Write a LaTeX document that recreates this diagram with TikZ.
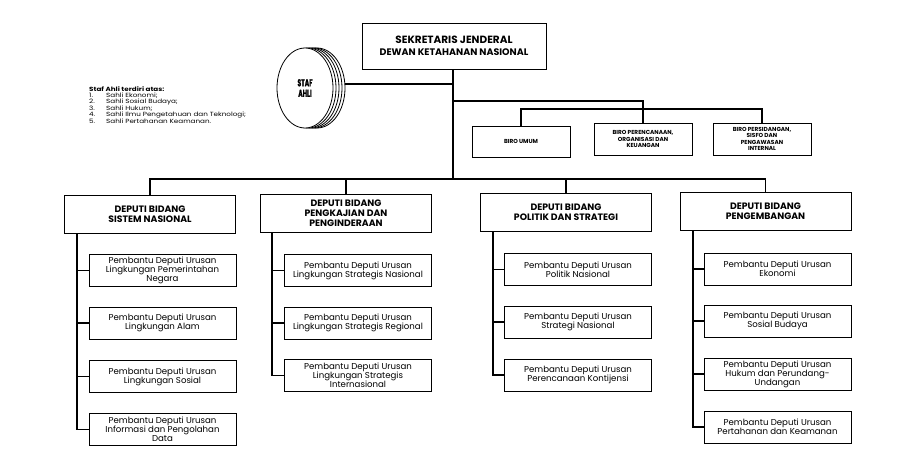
\documentclass[tikz,border=0pt]{standalone}
\usepackage{fontspec}
\setmainfont{Poppins}
\newfontfamily\narrowfont[FakeStretch=0.6,FakeBold=1.2]{Poppins}
\newfontfamily\widefont[FakeStretch=1.2]{Poppins}
\usepackage{tikz}
\usetikzlibrary{shapes.geometric}

\begin{document}
\begin{tikzpicture}[x=1pt,y=-1pt,
  conn/.style={line width=1.8pt},
  box/.style={draw,line width=0.9pt,align=center,inner sep=1pt,fill=white},
  headbox/.style={box,minimum width=184pt,minimum height=46pt},
  deputibox/.style={box,minimum width=171pt,minimum height=38pt,font=\bfseries\fontsize{9.3}{10}\selectfont},
  birobox/.style={box,minimum width=98pt,minimum height=32pt,font=\bfseries\fontsize{5.8}{6.2}\selectfont},
  subbox/.style={box,minimum width=147pt,minimum height=32pt,font=\fontsize{8.6}{9}\selectfont},
  disk/.style={ellipse,draw,line width=0.8pt,fill=white,minimum width=56pt,minimum height=80pt,inner sep=0pt}]
\useasboundingbox[fill=white] (0,0) rectangle (922,456);

% Sekretaris Jenderal
\node[headbox] (sekjen) at (454,46) {{\bfseries\fontsize{10.5}{11}\selectfont SEKRETARIS JENDERAL}\\{\bfseries\fontsize{9.5}{10}\selectfont DEWAN KETAHANAN NASIONAL}};

% Staf Ahli (stacked disks)
\foreach \d in {4,3,2,1}
  \node[disk] (staf\d) at (305+3*\d,88) {};
\node[disk,align=center,font=\narrowfont\bfseries\fontsize{10}{10.5}\selectfont] (staf) at (305,88) {STAF\\AHLI};
\node[anchor=north west,align=left,inner sep=0pt,font=\widefont\fontsize{6}{6}\selectfont] (staflist) at (89,86)
  {\textbf{Staf Ahli terdiri atas:}\\
   \makebox[17pt][l]{1.}Sahli Ekonomi;\\
   \makebox[17pt][l]{2.}Sahli Sosial Budaya;\\
   \makebox[17pt][l]{3.}Sahli Hukum;\\
   \makebox[17pt][l]{4.}Sahli Ilmu Pengetahuan dan Teknologi;\\
   \makebox[17pt][l]{5.}Sahli Pertahanan Keamanan.};

% Biro
\node[birobox,minimum height=31pt] (bu) at (521,141.5) {BIRO UMUM};
\node[birobox] (bp) at (643,139) {BIRO PERENCANAAN,\\ORGANISASI DAN\\KEUANGAN};
\node[birobox] (bs) at (762,139) {BIRO PERSIDANGAN,\\SISFO DAN\\PENGAWASAN\\INTERNAL};

% Deputi
\node[deputibox] (d1) at (150,214) {DEPUTI BIDANG\\SISTEM NASIONAL};
\node[deputibox] (d2) at (346,213) {DEPUTI BIDANG\\PENGKAJIAN DAN\\PENGINDERAAN};
\node[deputibox] (d3) at (566,212) {DEPUTI BIDANG\\POLITIK DAN STRATEGI};
\node[deputibox] (d4) at (765.5,211) {DEPUTI BIDANG\\PENGEMBANGAN};

% Pembantu Deputi
\node[subbox] (s11) at (162.5,270.5) {Pembantu Deputi Urusan\\Lingkungan Pemerintahan\\Negara};
\node[subbox] (s12) at (162.5,323) {Pembantu Deputi Urusan\\Lingkungan Alam};
\node[subbox] (s13) at (162.5,376.5) {Pembantu Deputi Urusan\\Lingkungan Sosial};
\node[subbox] (s14) at (162.5,429.5) {Pembantu Deputi Urusan\\Informasi dan Pengolahan\\Data};

\node[subbox] (s21) at (358,270.5) {Pembantu Deputi Urusan\\Lingkungan Strategis Nasional};
\node[subbox] (s22) at (358,323) {Pembantu Deputi Urusan\\Lingkungan Strategis Regional};
\node[subbox] (s23) at (358,375.5) {Pembantu Deputi Urusan\\Lingkungan Strategis\\Internasional};

\node[subbox] (s31) at (578,269.5) {Pembantu Deputi Urusan\\Politik Nasional};
\node[subbox] (s32) at (578,322) {Pembantu Deputi Urusan\\Strategi Nasional};
\node[subbox] (s33) at (578,375) {Pembantu Deputi Urusan\\Perencanaan Kontijensi};

\node[subbox] (s41) at (777.5,269) {Pembantu Deputi Urusan\\Ekonomi};
\node[subbox] (s42) at (777.5,321) {Pembantu Deputi Urusan\\Sosial Budaya};
\node[subbox] (s43) at (777.5,374) {Pembantu Deputi Urusan\\Hukum dan Perundang-\\Undangan};
\node[subbox] (s44) at (777.5,427) {Pembantu Deputi Urusan\\Pertahanan dan Keamanan};

% Connectors
\coordinate (stafjoin) at (453,84);
\coordinate (birobus) at (453,101);
\coordinate (birobus2) at (522,109);
\coordinate (depbus) at (453,179);
\coordinate (sp1) at (77,0);
\coordinate (sp2) at (272,0);
\coordinate (sp3) at (493,0);
\coordinate (sp4) at (693,0);

\draw[conn] (stafjoin -| staf4.east) -- (stafjoin);
\draw[conn] (sekjen.south -| depbus) -- (depbus);
\draw[conn] (birobus) -| (bp.north);
\draw[conn] (bu.north) |- (bs.north |- birobus2) -- (bs.north);
\draw[conn] (d1.north) |- (d4.north |- depbus) -- (d4.north);
\draw[conn] (d2.north) -- (d2.north |- depbus);
\draw[conn] (d3.north) -- (d3.north |- depbus);

\draw[conn] (sp1 |- d1.south) -- (sp1 |- s14.west) -- (s14.west);
\foreach \s in {s11,s12,s13}
  \draw[conn] (sp1 |- \s.west) -- (\s.west);
\draw[conn] (sp2 |- d2.south) -- (sp2 |- s23.west) -- (s23.west);
\foreach \s in {s21,s22}
  \draw[conn] (sp2 |- \s.west) -- (\s.west);
\draw[conn] (sp3 |- d3.south) -- (sp3 |- s33.west) -- (s33.west);
\foreach \s in {s31,s32}
  \draw[conn] (sp3 |- \s.west) -- (\s.west);
\draw[conn] (sp4 |- d4.south) -- (sp4 |- s44.west) -- (s44.west);
\foreach \s in {s41,s42,s43}
  \draw[conn] (sp4 |- \s.west) -- (\s.west);
\end{tikzpicture}
\end{document}
